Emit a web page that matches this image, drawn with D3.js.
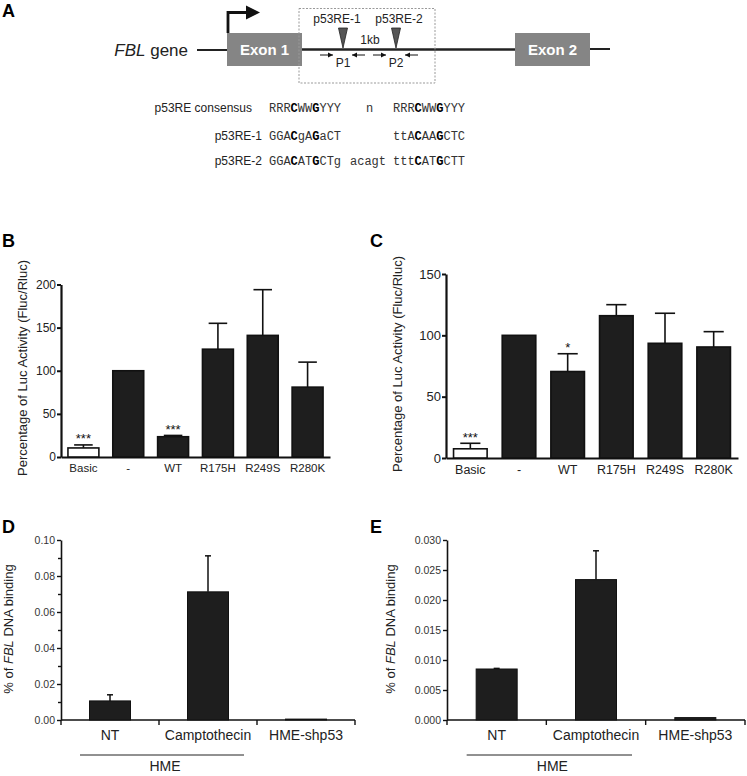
<!DOCTYPE html>
<html><head><meta charset="utf-8">
<script src="https://cdn.jsdelivr.net/npm/d3@7"></script>
<style>
html,body{margin:0;padding:0;background:#fff;}
svg text{font-family:"Liberation Sans",Arial,sans-serif;}
.mono{font-family:"Liberation Mono","Courier New",monospace;}
</style></head>
<body>
<svg id="fig" width="747" height="776"></svg>
<script>
// ---------------- DATA ----------------
const catsBC = ["Basic", "-", "WT", "R175H", "R249S", "R280K"];
const valsB = [10.5, 100, 23.5, 125, 141, 81];
const errB  = [14, null, 25, 155, 194, 110];
const sigB  = ["***", "", "***", "", "", ""];
const ticksB = [0, 50, 100, 150, 200];

const valsC = [7.5, 100, 70.5, 116, 93.5, 90.5];
const errC  = [12, null, 85, 125, 118, 103];
const sigC  = ["***", "", "*", "", "", ""];
const ticksC = [0, 50, 100, 150];

const catsDE = ["NT", "Camptothecin", "HME-shp53"];
const valsD = [0.0106, 0.0712, 0.0005];
const errD  = [0.0140, 0.0912, null];
const ticksD = [0, 0.02, 0.04, 0.06, 0.08, 0.10];
const minorD = [0.01, 0.03, 0.05, 0.07, 0.09];

const valsE = [0.0085, 0.0234, 0.0004];
const errE  = [0.0086, 0.0282, null];
const ticksE = [0, 0.005, 0.010, 0.015, 0.020, 0.025, 0.030];
const minorE = [];

const seqRows = [
  {label: "p53RE consensus", left: "RRRCWWGYYY", mid: "n", right: "RRRCWWGYYY"},
  {label: "p53RE-1", left: "GGACgAGaCT", mid: "", right: "ttACAAGCTC"},
  {label: "p53RE-2", left: "GGACATGCTg", mid: "acagt", right: "tttCATGCTT"}
];
const boldPos = {left: [3, 6], right: [3, 6]};

// ---------------- DRAW ----------------
const svg = d3.select("#fig");

function letter(t, x, y) {
  svg.append("text").attr("x", x).attr("y", y).text(t)
    .attr("font-size", 18).attr("font-weight", "bold").attr("fill", "#000");
}

// ---- Panel A ----
letter("A", 2, 17);
const gA = svg.append("g");
gA.append("line").attr("x1", 197).attr("x2", 227).attr("y1", 50).attr("y2", 50).attr("stroke", "#222").attr("stroke-width", 2);
gA.append("line").attr("x1", 302).attr("x2", 516).attr("y1", 49.5).attr("y2", 49.5).attr("stroke", "#222").attr("stroke-width", 2.5);
gA.append("line").attr("x1", 590).attr("x2", 610).attr("y1", 49).attr("y2", 49).attr("stroke", "#222").attr("stroke-width", 2);
gA.append("path").attr("d", "M228,33 V12.5 H248").attr("fill", "none").attr("stroke", "#111").attr("stroke-width", 2.8);
gA.append("path").attr("d", "M246,5.5 L260,12.5 L246,19.5 Z").attr("fill", "#111");
[[227, 302, "Exon 1"], [515, 590, "Exon 2"]].forEach(([a, b, t]) => {
  gA.append("rect").attr("x", a).attr("y", 33).attr("width", b - a).attr("height", 33).attr("fill", "#858585");
  gA.append("text").attr("x", (a + b) / 2).attr("y", 55).attr("text-anchor", "middle")
    .attr("font-size", 15).attr("font-weight", "bold").attr("fill", "#fff").text(t);
});
gA.append("rect").attr("x", 299).attr("y", 8.5).attr("width", 136).attr("height", 74.5)
  .attr("fill", "none").attr("stroke", "#999").attr("stroke-width", 1).attr("stroke-dasharray", "2,1.5");
const fl = gA.append("text").attr("x", 188).attr("y", 56).attr("text-anchor", "end").attr("font-size", 17).attr("fill", "#222");
fl.append("tspan").attr("font-style", "italic").text("FBL");
fl.append("tspan").text(" gene");
[[343, 337, "p53RE-1", "P1"], [396, 399, "p53RE-2", "P2"]].forEach(([cx, lx, t, p]) => {
  gA.append("text").attr("x", lx).attr("y", 23).attr("text-anchor", "middle").attr("font-size", 12).attr("fill", "#222").text(t);
  gA.append("path").attr("d", `M${cx - 4.5},28 L${cx + 4.5},28 L${cx},48 Z`).attr("fill", "#555").attr("stroke", "#222").attr("stroke-width", 0.8);
  const arr = (x1, x2) => {
    gA.append("line").attr("x1", x1).attr("x2", x2).attr("y1", 55).attr("y2", 55).attr("stroke", "#111").attr("stroke-width", 1);
    const d = x2 > x1 ? 1 : -1;
    gA.append("path").attr("d", `M${x2},55 L${x2 - d * 5},52.5 L${x2 - d * 5},57.5 Z`).attr("fill", "#111");
  };
  arr(cx - 23, cx - 10);
  arr(cx + 22, cx + 9);
  gA.append("text").attr("x", cx).attr("y", 67).attr("text-anchor", "middle").attr("font-size", 12).attr("fill", "#222").text(p);
});
gA.append("text").attr("x", 370).attr("y", 44).attr("text-anchor", "middle").attr("font-size", 12).attr("fill", "#222").text("1kb");

const seqY = [112, 140, 165];
const labelEnd = [252, 262, 262];
function seqText(str, x, y, bold) {
  const t = gA.append("text").attr("class", "mono").attr("x", x).attr("y", y).attr("font-size", 12).attr("fill", "#333");
  [...str].forEach((ch, i) => {
    t.append("tspan").attr("font-weight", bold.includes(i) ? "bold" : "normal")
      .attr("fill", bold.includes(i) ? "#000" : "#333").text(ch);
  });
}
seqRows.forEach((r, i) => {
  gA.append("text").attr("x", labelEnd[i]).attr("y", seqY[i]).attr("text-anchor", "end").attr("font-size", 12).attr("fill", "#222").text(r.label);
  seqText(r.left, 269, seqY[i], boldPos.left);
  if (r.mid) seqText(r.mid, r.mid.length > 1 ? 350 : 366, seqY[i], []);
  seqText(r.right, 393, seqY[i], boldPos.right);
});

// ---- Panels B & C ----
function lucChart(o) {
  const g = svg.append("g");
  const x = d3.scaleBand().domain(catsBC).range([o.x0, o.x1]).paddingInner(0.31).paddingOuter(0.155);
  const y = d3.scaleLinear().domain([0, o.max]).range([o.y0, o.y1]);
  const ya = g.append("g").attr("transform", `translate(${o.x0},0)`)
    .call(d3.axisLeft(y).tickValues(o.ticks).tickSize(4).tickSizeOuter(0).tickPadding(1).tickFormat(d3.format("d")));
  ya.select(".domain").attr("stroke-width", 2.2).attr("stroke", "#111");
  ya.selectAll(".tick line").attr("stroke-width", 2).attr("stroke", "#111");
  ya.selectAll(".tick text").attr("font-size", o.tickFs).attr("fill", "#222").attr("font-family", "Liberation Sans");
  const xa = g.append("g").attr("transform", `translate(0,${o.y0})`)
    .call(d3.axisBottom(x).tickSize(0).tickPadding(o.labPad));
  xa.select(".domain").attr("stroke-width", 2.2).attr("stroke", "#111");
  xa.selectAll(".tick text").attr("font-size", o.labFs).attr("fill", "#222").attr("font-family", "Liberation Sans");
  const bw = x.bandwidth();
  catsBC.forEach((c, i) => {
    const cx = x(c) + bw / 2;
    if (o.err[i] != null) {
      g.append("line").attr("x1", cx).attr("x2", cx).attr("y1", y(o.vals[i])).attr("y2", y(o.err[i])).attr("stroke", "#111").attr("stroke-width", 1.6);
      g.append("line").attr("x1", cx - bw * 0.3).attr("x2", cx + bw * 0.3).attr("y1", y(o.err[i])).attr("y2", y(o.err[i])).attr("stroke", "#111").attr("stroke-width", 1.6);
    }
    g.append("rect").attr("x", x(c)).attr("width", bw).attr("y", y(o.vals[i])).attr("height", o.y0 - y(o.vals[i]))
      .attr("fill", i === 0 ? "#fff" : "#1e1e1e").attr("stroke", "#111").attr("stroke-width", 1.6);
    if (o.sig[i]) {
      g.append("text").attr("x", cx).attr("y", y(o.err[i]) - 1.5).attr("text-anchor", "middle")
        .attr("font-size", 13).attr("fill", "#111").text(o.sig[i]);
    }
  });
  g.append("text").attr("transform", `translate(${o.titleX},${o.titleY}) rotate(-90)`).attr("text-anchor", "middle")
    .attr("font-size", 13).attr("fill", "#222").text("Percentage of Luc Activity (Fluc/Rluc)");
}
letter("B", 2, 247);
letter("C", 370, 247);
lucChart({x0: 61, x1: 330, y0: 457, y1: 284.5, max: 200, ticks: ticksB, vals: valsB, err: errB, sig: sigB,
  tickFs: 12, labFs: 11.5, labPad: 7, titleX: 27, titleY: 368});
lucChart({x0: 446, x1: 738, y0: 458, y1: 274, max: 150, ticks: ticksC, vals: valsC, err: errC, sig: sigC,
  tickFs: 13, labFs: 12.5, labPad: 7, titleX: 402, titleY: 364});

// ---- Panels D & E ----
function chipChart(o) {
  const g = svg.append("g");
  const x = d3.scaleBand().domain(catsDE).range([o.x0, o.x1]);
  const y = d3.scaleLinear().domain([0, o.max]).range([o.y0, o.y1]);
  const ya = g.append("g").attr("transform", `translate(${o.x0},0)`)
    .call(d3.axisLeft(y).tickValues(o.ticks).tickSize(4).tickSizeOuter(0).tickPadding(2).tickFormat(d3.format(o.fmt)));
  ya.select(".domain").attr("stroke-width", 1.6).attr("stroke", "#111");
  ya.selectAll(".tick line").attr("stroke-width", 1.4).attr("stroke", "#111");
  ya.selectAll(".tick text").attr("font-size", 10.5).attr("fill", "#333").attr("font-family", "Liberation Sans");
  if (o.minor.length) {
    const ym = g.append("g").attr("transform", `translate(${o.x0},0)`)
      .call(d3.axisLeft(y).tickValues(o.minor).tickSize(3).tickSizeOuter(0).tickFormat(""));
    ym.select(".domain").remove();
    ym.selectAll(".tick line").attr("stroke-width", 1.4).attr("stroke", "#111");
  }
  g.append("line").attr("x1", o.x0).attr("x2", o.x1).attr("y1", o.y0).attr("y2", o.y0).attr("stroke", "#111").attr("stroke-width", 1.6);
  const bounds = catsDE.map(c => x(c)).concat([o.x1]);
  bounds.forEach(b => g.append("line").attr("x1", b).attr("x2", b).attr("y1", o.y0).attr("y2", o.y0 + 5).attr("stroke", "#111").attr("stroke-width", 1.4));
  const bw = 41;
  catsDE.forEach((c, i) => {
    const cx = x(c) + x.bandwidth() / 2;
    if (o.err[i] != null) {
      g.append("line").attr("x1", cx).attr("x2", cx).attr("y1", y(o.vals[i])).attr("y2", y(o.err[i])).attr("stroke", "#111").attr("stroke-width", 1.5);
      g.append("line").attr("x1", cx - 3).attr("x2", cx + 3).attr("y1", y(o.err[i])).attr("y2", y(o.err[i])).attr("stroke", "#111").attr("stroke-width", 1.5);
    }
    g.append("rect").attr("x", cx - bw / 2).attr("width", bw).attr("y", y(o.vals[i])).attr("height", o.y0 - y(o.vals[i]))
      .attr("fill", "#1e1e1e").attr("stroke", "#111").attr("stroke-width", 1);
    g.append("text").attr("x", cx).attr("y", 740).attr("text-anchor", "middle").attr("font-size", 14).attr("fill", "#222").text(c);
  });
  const c0 = x(catsDE[0]) + x.bandwidth() / 2, c1 = x(catsDE[1]) + x.bandwidth() / 2;
  const l0 = c0 - 30, l1 = c1 + 36;
  g.append("line").attr("x1", l0).attr("x2", l1).attr("y1", 755).attr("y2", 755).attr("stroke", "#222").attr("stroke-width", 1);
  g.append("text").attr("x", (l0 + l1) / 2 + 3).attr("y", 771).attr("text-anchor", "middle").attr("font-size", 14).attr("fill", "#222").text("HME");
  const t = g.append("text").attr("transform", `translate(${o.titleX},${o.titleY}) rotate(-90)`).attr("text-anchor", "middle")
    .attr("font-size", 13).attr("fill", "#222");
  t.append("tspan").text("% of ");
  t.append("tspan").attr("font-style", "italic").text("FBL");
  t.append("tspan").text(" DNA binding");
}
letter("D", 2, 533);
letter("E", 370, 533);
chipChart({x0: 61, x1: 355, y0: 720, y1: 540, max: 0.10, ticks: ticksD, minor: minorD, fmt: ".2f",
  vals: valsD, err: errD, titleX: 13, titleY: 629});
chipChart({x0: 447, x1: 745, y0: 720, y1: 540, max: 0.030, ticks: ticksE, minor: minorE, fmt: ".3f",
  vals: valsE, err: errE, titleX: 395, titleY: 629});
</script>
</body></html>
